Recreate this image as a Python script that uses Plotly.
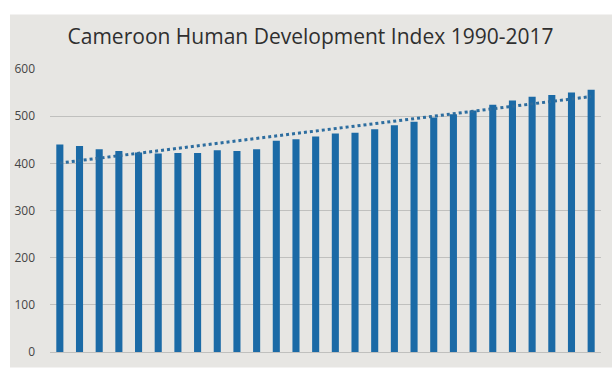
import numpy as np
import plotly.graph_objects as go

# Cameroon HDI (x1000), 1990-2017
years = [str(y) for y in range(1990, 2018)]
hdi = [440, 437, 430, 426, 423, 421, 422, 422, 428, 426,
       430, 448, 451, 457, 463, 465, 472, 481, 488, 497,
       504, 512, 524, 533, 541, 545, 550, 556]
y_ticks = [0, 100, 200, 300, 400, 500, 600]

# linear trend fitted to the series
idx = np.arange(len(hdi))
slope, intercept = np.polyfit(idx, hdi, 1)
trend = slope * idx + intercept

W, H = 612, 371
ML, MR, MT, MB = 50, 11, 69, 11

fig = go.Figure()
fig.add_trace(go.Bar(x=years, y=hdi, marker=dict(color="#1b6aa6", line=dict(width=0)),
                     showlegend=False))
fig.add_trace(go.Scatter(x=years, y=trend, mode="lines",
                         line=dict(color="#2d6d9f", width=3, dash="dot"),
                         showlegend=False))

# light grey screen area with a white strip along the top and left edge
pw, ph = W - ML - MR, H - MT - MB
def px_x(p):
    return (p - ML) / pw
def px_y(p):
    return (H - MB - p) / ph

fig.add_shape(type="rect", xref="paper", yref="paper",
              x0=px_x(10), x1=px_x(W + 5), y0=px_y(H + 5), y1=px_y(13),
              fillcolor="#e7e6e3", line=dict(width=0), layer="below")

fig.update_layout(
    width=W, height=H,
    margin=dict(l=ML, r=MR, t=MT, b=MB),
    paper_bgcolor="white",
    plot_bgcolor="rgba(0,0,0,0)",
    bargap=0.64,
    title=dict(text="Cameroon Human Development Index 1990-2017",
               x=310.5 / W, xanchor="center", y=1 - 37 / H, yanchor="middle",
               font=dict(family="Open Sans", size=21, color="#2f2f2f")),
    xaxis=dict(showticklabels=False, showgrid=False, zeroline=False, showline=False,
               ticks=""),
    yaxis=dict(range=[0, 600], tickvals=y_ticks, showgrid=True, gridcolor="#c0c0be",
               gridwidth=1, zeroline=True, zerolinecolor="#c0c0be", zerolinewidth=1,
               showline=False, ticks="", ticklabelstandoff=14,
               tickfont=dict(family="Open Sans", size=12, color="#454545")),
)

fig.write_html("out.html")
